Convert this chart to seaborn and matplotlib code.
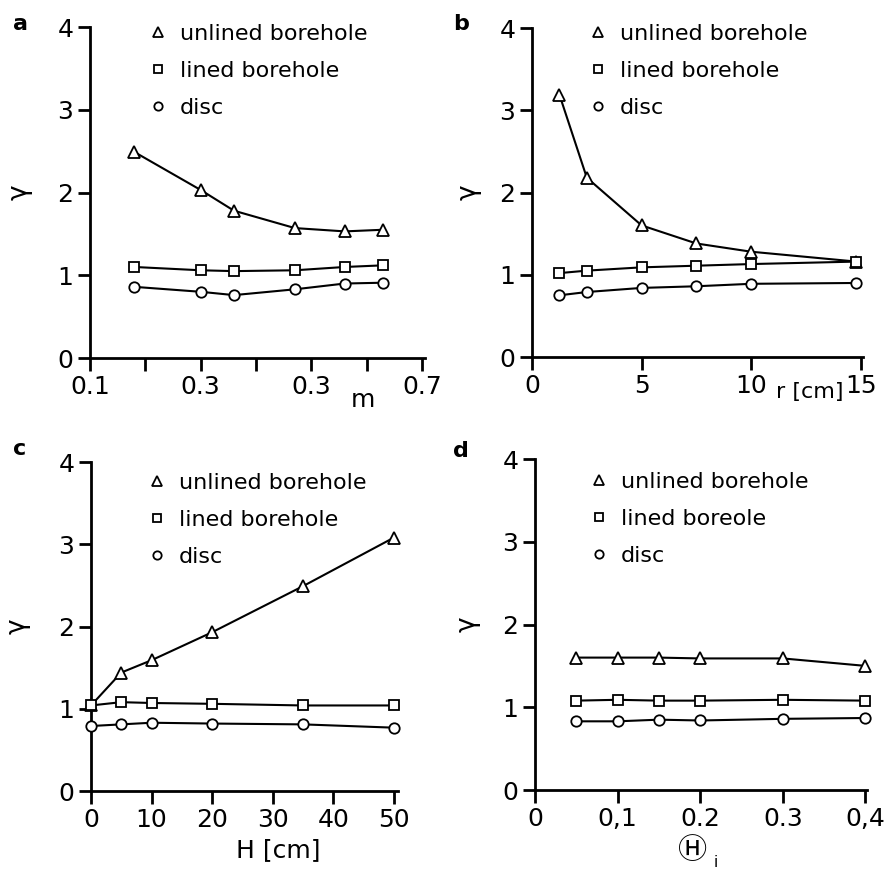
import matplotlib
matplotlib.use('Agg')
import matplotlib.pyplot as plt
import seaborn as sns
import pandas as pd
from matplotlib.lines import Line2D

sns.set_style('ticks')
plt.rcParams['font.family'] = ['DejaVu Sans', 'Noto Sans CJK JP']
plt.rcParams['text.color'] = 'black'
plt.rcParams['axes.labelcolor'] = 'black'
plt.rcParams['xtick.color'] = 'black'
plt.rcParams['ytick.color'] = 'black'

# ---------------- data ----------------
labels_abc = ['unlined borehole', 'lined borehole', 'disc']
labels_d = ['unlined borehole', 'lined boreole', 'disc']

a_x = [0.18, 0.30, 0.36, 0.47, 0.56, 0.63]
a_unlined = [2.49, 2.03, 1.78, 1.57, 1.53, 1.55]
a_lined = [1.10, 1.06, 1.05, 1.06, 1.10, 1.12]
a_disc = [0.86, 0.80, 0.76, 0.83, 0.90, 0.91]

b_x = [1.25, 2.5, 5, 7.5, 10, 14.8]
b_unlined = [3.19, 2.18, 1.60, 1.38, 1.28, 1.16]
b_lined = [1.02, 1.05, 1.09, 1.11, 1.13, 1.16]
b_disc = [0.75, 0.79, 0.84, 0.86, 0.89, 0.90]

c_x = [0, 5, 10, 20, 35, 50]
c_unlined = [1.04, 1.44, 1.59, 1.93, 2.49, 3.08]
c_lined = [1.04, 1.08, 1.07, 1.06, 1.04, 1.04]
c_disc = [0.79, 0.81, 0.83, 0.82, 0.81, 0.77]

d_x = [0.05, 0.1, 0.15, 0.2, 0.3, 0.4]
d_unlined = [1.60, 1.60, 1.60, 1.59, 1.59, 1.50]
d_lined = [1.08, 1.09, 1.08, 1.08, 1.09, 1.08]
d_disc = [0.83, 0.83, 0.85, 0.84, 0.86, 0.87]

y_ticks = [0, 1, 2, 3, 4]
y_ticklabels = ['0', '1', '2', '3', '4']
a_ticks = [0.1, 0.2, 0.3, 0.4, 0.5, 0.6, 0.7]
a_ticklabels = ['0.1', '', '0.3', '', '0.3', '', '0.7']
b_ticks = [0, 5, 10, 15]
b_ticklabels = ['0', '5', '10', '15']
c_ticks = [0, 10, 20, 30, 40, 50]
c_ticklabels = ['0', '10', '20', '30', '40', '50']
d_ticks = [0, 0.1, 0.2, 0.3, 0.4]
d_ticklabels = ['0', '0,1', '0.2', '0.3', '0,4']

# ---------------- figure ----------------
W, H = 891, 872
fig = plt.figure(figsize=(W / 100, H / 100), dpi=100)
fig.patch.set_facecolor('white')

MARK = ['^', 's', 'o']
MSIZE = {'^': 8.0, 's': 6.5, 'o': 7.5}
LSIZE = {'^': 7.0, 's': 5.5, 'o': 6.0}


def make_axes(l, r, t, b):
    return fig.add_axes([l / W, 1 - b / H, (r - l) / W, (b - t) / H])


def draw_panel(ax, x, unl, lin, dsc, labels):
    n = len(x)
    df = pd.DataFrame({
        'x': list(x) * 3,
        'y': list(unl) + list(lin) + list(dsc),
        'series': [labels[0]] * n + [labels[1]] * n + [labels[2]] * n,
    })
    sns.lineplot(data=df, x='x', y='y', style='series', style_order=labels,
                 markers=dict(zip(labels, MARK)), dashes=False,
                 color='black', linewidth=1.5, markerfacecolor='white',
                 markeredgecolor='black', markeredgewidth=1.3,
                 estimator=None, sort=False, legend=False, ax=ax)
    for ln in ax.lines:
        ln.set_clip_on(False)
        ln.set_markersize(MSIZE.get(ln.get_marker(), 7))
        ln.set_zorder(3)


def style_axes(ax, xlim, xticks, xticklabels):
    ax.set_xlim(*xlim)
    ax.set_ylim(0, 4)
    ax.set_xticks(xticks)
    ax.set_xticklabels(xticklabels)
    ax.set_yticks(y_ticks)
    ax.set_yticklabels(y_ticklabels)
    for s in ['top', 'right']:
        ax.spines[s].set_visible(False)
    for s in ['left', 'bottom']:
        ax.spines[s].set_linewidth(2.0)
        ax.spines[s].set_color('black')
    ax.tick_params(direction='out', length=9, width=2.0, labelsize=18,
                   colors='black', labelcolor='black', pad=3)
    ax.set_xlabel('')
    ax.set_ylabel('')
    ax.set_facecolor('white')


def add_legend(ax, labels, mx, my):
    fs = 16
    em = fs * 100 / 72
    handles = [Line2D([], [], linestyle='none', marker=m, markersize=LSIZE[m],
                      markerfacecolor='white', markeredgecolor='black',
                      markeredgewidth=1.3) for m in MARK]
    left = (mx - 0.5 * em) / W
    top = 1 - (my - 10) / H
    leg = ax.legend(handles, labels, loc='upper left', bbox_to_anchor=(left, top),
                    bbox_transform=fig.transFigure, frameon=False, fontsize=fs,
                    handlelength=1.0, handletextpad=0.5, labelspacing=0.76,
                    borderpad=0, borderaxespad=0)
    for t in leg.get_texts():
        t.set_color('black')


def set_ylab(ax, l, r, t, b, right_px):
    ax.set_ylabel('γ', fontsize=19, rotation=90, color='black')
    ax.yaxis.set_label_coords((right_px - l) / (r - l), 0.5)


# panel a
la, ra, ta, ba = 90, 425, 27, 358
ax_a = make_axes(la, ra, ta, ba)
draw_panel(ax_a, a_x, a_unlined, a_lined, a_disc, labels_abc)
style_axes(ax_a, (0.1, 0.705), a_ticks, a_ticklabels)
add_legend(ax_a, labels_abc, 158, 34)
set_ylab(ax_a, la, ra, ta, ba, 33)

# panel b
lb, rb, tb, bb = 532, 863, 28, 357
ax_b = make_axes(lb, rb, tb, bb)
draw_panel(ax_b, b_x, b_unlined, b_lined, b_disc, labels_abc)
style_axes(ax_b, (0, 15.1), b_ticks, b_ticklabels)
add_legend(ax_b, labels_abc, 598, 34)
set_ylab(ax_b, lb, rb, tb, bb, 482)

# panel c
lc, rc, tc, bc = 91, 398, 462, 791
ax_c = make_axes(lc, rc, tc, bc)
draw_panel(ax_c, c_x, c_unlined, c_lined, c_disc, labels_abc)
style_axes(ax_c, (0, 50.7), c_ticks, c_ticklabels)
add_legend(ax_c, labels_abc, 157, 483)
set_ylab(ax_c, lc, rc, tc, bc, 31)

# panel d
ld, rd, td, bd = 535, 867, 459, 790
ax_d = make_axes(ld, rd, td, bd)
draw_panel(ax_d, d_x, d_unlined, d_lined, d_disc, labels_d)
style_axes(ax_d, (0, 0.402), d_ticks, d_ticklabels)
add_legend(ax_d, labels_d, 599, 482)
set_ylab(ax_d, ld, rd, td, bd, 481)

# x-axis labels
fig.text(363 / W, 1 - 407 / H, 'm', fontsize=18, ha='center', va='baseline')
fig.text(810 / W, 1 - 398 / H, 'r [cm]', fontsize=16, ha='center', va='baseline')
fig.text(278 / W, 1 - 857 / H, 'H [cm]', fontsize=18, ha='center', va='baseline')
fig.text(693 / W, 1 - 851 / H, 'Ⓗ', fontsize=21, ha='center', va='center')
fig.text(716 / W, 1 - 867 / H, 'i', fontsize=11, ha='center', va='baseline')

# panel letters
for txt, xp, yp in [('a', 13, 30), ('b', 453, 30), ('c', 13, 455), ('d', 453, 457)]:
    fig.text(xp / W, 1 - yp / H, txt, fontsize=16, fontweight='bold',
             ha='left', va='baseline')

fig.savefig('out.png', dpi=100, facecolor='white')
